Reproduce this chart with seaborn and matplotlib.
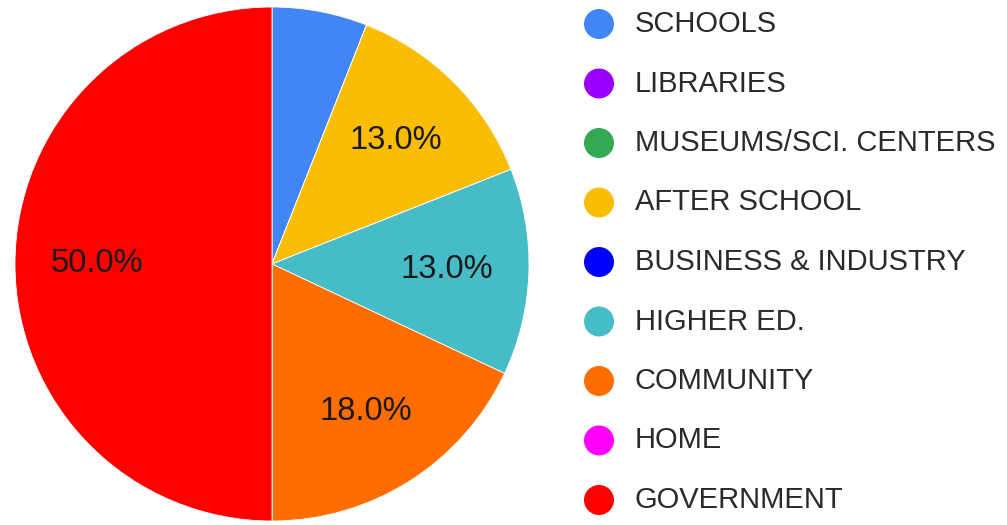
import numpy as np
import pandas as pd
import matplotlib
matplotlib.use('Agg')
import matplotlib.pyplot as plt
import seaborn as sns

categories = ['SCHOOLS', 'LIBRARIES', 'MUSEUMS/SCI. CENTERS', 'AFTER SCHOOL',
              'BUSINESS & INDUSTRY', 'HIGHER ED.', 'COMMUNITY', 'HOME', 'GOVERNMENT']
values = [6, 0, 0, 13, 0, 13, 18, 0, 50]
colors = ['#4285F4', '#9900FF', '#34A853', '#FBBC04', '#0000FF',
          '#46BDC6', '#FF6D01', '#FF00FF', '#FF0000']

sns.set_theme(style='white')
plt.rcParams['font.family'] = ['Liberation Sans', 'DejaVu Sans']

fig = plt.figure(figsize=(10.07, 5.25), dpi=100)
fig.patch.set_facecolor('white')

# pie area
ax = fig.add_axes([15 / 1007, 4 / 525, 514 / 1007, 514 / 525])


def pct_label(p):
    # small slices get no label
    return '%.1f%%' % p if p >= 10 else ''


wedges, texts, autotexts = ax.pie(
    values, colors=colors, startangle=90, counterclock=False,
    autopct=pct_label, pctdistance=0.68, radius=1,
    wedgeprops=dict(edgecolor='white', linewidth=0.6),
    textprops=dict(fontsize=23.5, color='#1a1a1a'))
ax.set_xlim(-1, 1)
ax.set_ylim(-1, 1)
ax.set_aspect('equal')
ax.axis('off')

# legend as its own axes
lax = fig.add_axes([580 / 1007, 0, 427 / 1007, 1])
leg = pd.DataFrame({'cat': categories,
                    'x': 19,
                    'y': 24 + 59.5 * np.arange(len(categories))})
sns.scatterplot(data=leg, x='x', y='y', hue='cat', palette=colors,
                s=30 ** 2 * 0.72 ** 2, linewidth=0, legend=False, ax=lax)
for _, row in leg.iterrows():
    lax.text(row['x'] + 36, row['y'], row['cat'], fontsize=21,
             color='#2a2a2a', va='center', ha='left')
lax.set_xlim(0, 427)
lax.set_ylim(525, 0)
lax.axis('off')

fig.savefig('out.png', dpi=100, facecolor='white')
